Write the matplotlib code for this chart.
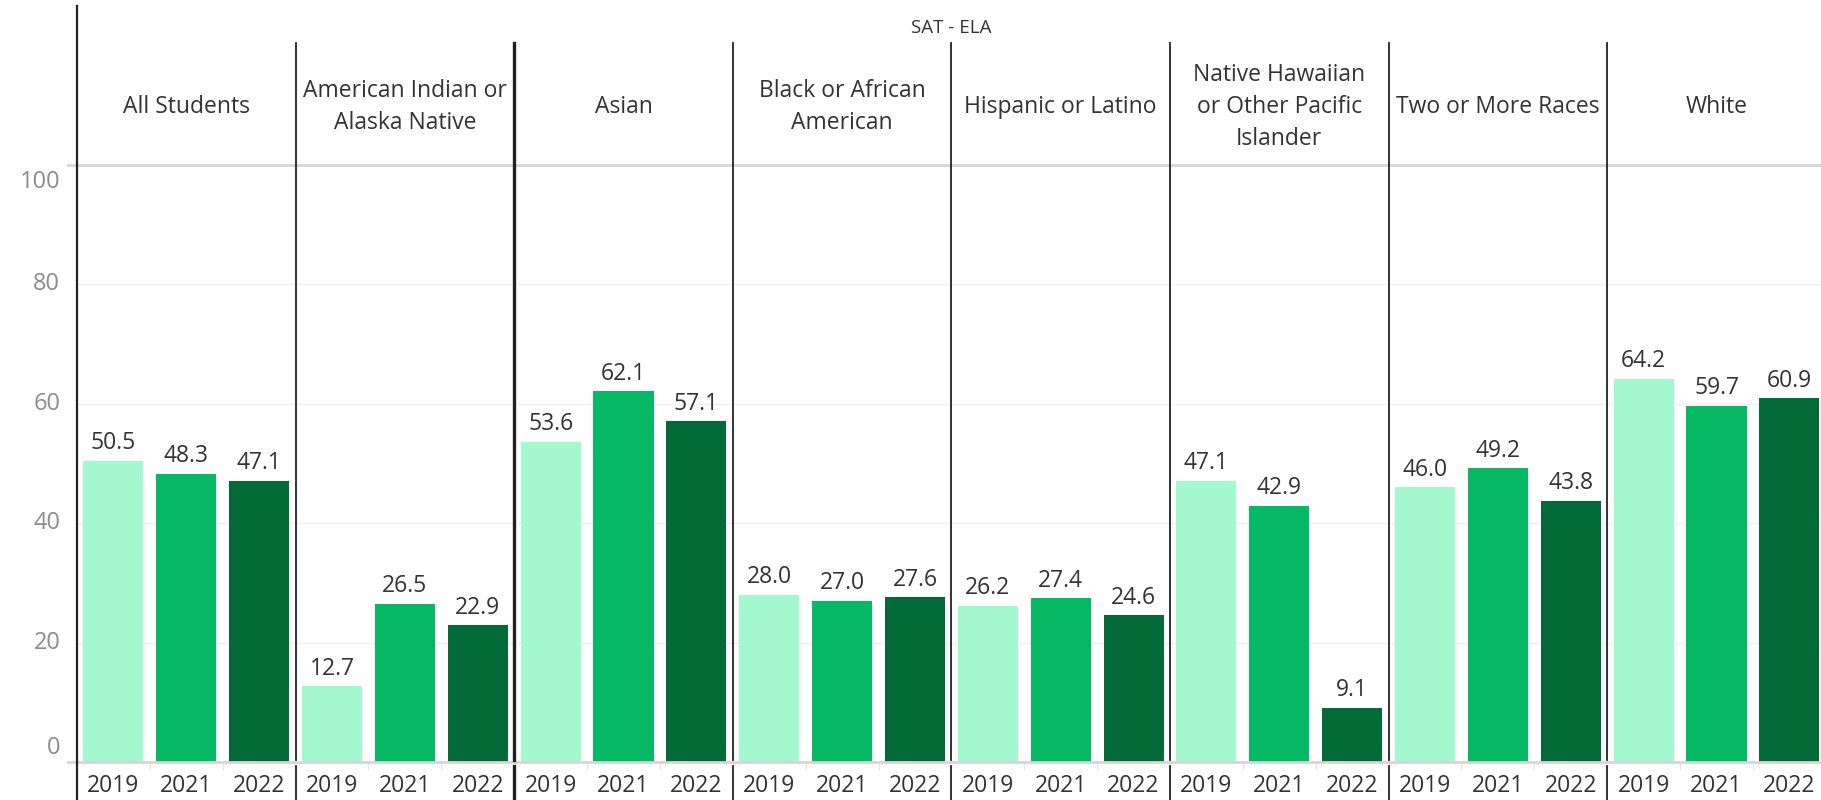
import matplotlib.pyplot as plt
from matplotlib.lines import Line2D
import numpy as np

# data
groups = ['All Students', 'American Indian or\nAlaska Native', 'Asian',
          'Black or African\nAmerican', 'Hispanic or Latino',
          'Native Hawaiian\nor Other Pacific\nIslander', 'Two or More Races', 'White']
years = ['2019', '2021', '2022']
vals_2019 = [50.5, 12.7, 53.6, 28.0, 26.2, 47.1, 46.0, 64.2]
vals_2021 = [48.3, 26.5, 62.1, 27.0, 27.4, 42.9, 49.2, 59.7]
vals_2022 = [47.1, 22.9, 57.1, 27.6, 24.6, 9.1, 43.8, 60.9]
yticks = [0, 20, 40, 60, 80, 100]
title = 'SAT - ELA'

colors = ['#a3f9cd', '#05b863', '#036b37']
txt = '#333333'
W, H = 1821, 800

plt.rcParams['font.family'] = ['Open Sans', 'DejaVu Sans']

fig = plt.figure(figsize=(W / 100, H / 100), dpi=100)

# pixel helpers
def fx(px):
    return px / W

def fy(py):
    return 1 - py / H

left, zero_y, top_y = 77, 762, 165
panel_w = 218.6
ax = fig.add_axes([fx(left), fy(zero_y), fx(W - left), (zero_y - top_y) / H])
ax.set_xlim(0, (W - left) / panel_w)
ax.set_ylim(0, 100)
for s in ax.spines.values():
    s.set_visible(False)

n = len(groups)
series = [vals_2019, vals_2021, vals_2022]
xt, xl = [], []
for i, vals in enumerate(series):
    xs = np.arange(n) + (i + 0.5) / 3
    bars = ax.bar(xs, vals, width=0.275, color=colors[i], zorder=2)
    for b, v in zip(bars, vals):
        ax.annotate(f'{v:.1f}', (b.get_x() + b.get_width() / 2, v),
                    xytext=(0, 4), textcoords='offset points',
                    ha='center', va='bottom', fontsize=16.5, color=txt)
    xt += list(xs)
    xl += [years[i]] * n

ax.set_xticks(xt)
ax.set_xticklabels(xl, fontsize=16.5, color=txt)
ax.set_xticks([k + f for k in range(n) for f in (1 / 3, 2 / 3)], minor=True)
ax.tick_params(axis='x', which='major', length=0, pad=9)
ax.tick_params(axis='x', which='minor', length=6, color='#e6e6e6', width=1)

# y axis: grid + labels (end labels pulled inward like the original)
ax.set_yticks(yticks)
ax.set_yticklabels([])
ax.tick_params(axis='y', length=0)
for t in yticks[1:-1]:
    ax.axhline(t, color='#efefef', lw=1, zorder=0)
for t in yticks:
    off = 0
    if t == 0:
        off = 10
    elif t == 100:
        off = -12
    ax.annotate(str(t), (0, t), xycoords=('axes fraction', 'data'),
                xytext=(-12, off), textcoords='offset points',
                ha='right', va='center', fontsize=17, color='#8c8c8c')

# header and frame lines in figure space
gray = '#d6d6d6'
fig.add_artist(Line2D([fx(68), 1], [fy(zero_y), fy(zero_y)], color=gray, lw=2))
fig.add_artist(Line2D([fx(68), 1], [fy(top_y), fy(top_y)], color=gray, lw=2))
fig.add_artist(Line2D([fx(left), fx(left)], [fy(6), fy(H)], color='#222222', lw=1.6))
for k in range(1, n):
    x = fx(left + k * panel_w)
    lw = 2.4 if k == 2 else 1.3
    fig.add_artist(Line2D([x, x], [fy(43), fy(zero_y - 2)], color='#222222', lw=lw))
    fig.add_artist(Line2D([x, x], [fy(zero_y + 4), fy(H)], color='#222222', lw=lw))

for k, g in enumerate(groups):
    fig.text(fx(left + (k + 0.5) * panel_w), fy(107), g, ha='center', va='center',
             fontsize=16.5, color=txt, linespacing=1.45)

fig.text(fx(left + 4 * panel_w), fy(28), title, ha='center', va='center',
         fontsize=13.5, color=txt)

fig.savefig('out.png', dpi=100)
